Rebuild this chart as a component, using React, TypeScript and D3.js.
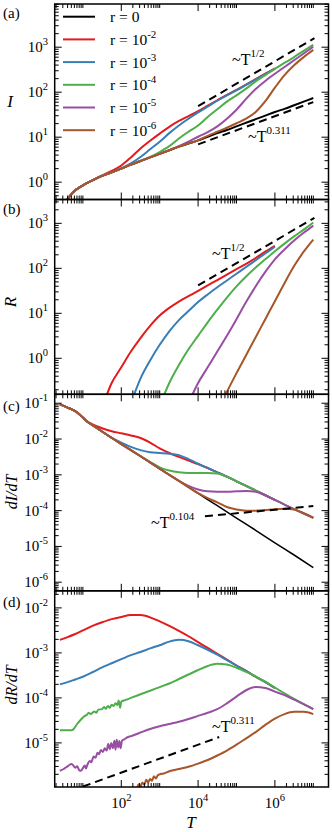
import React from 'react';
import * as d3 from 'd3';

type Pt = [number, number]; // [log10 T, log10 value]

// colours for r = 0, 1e-2 ... 1e-6
const COLORS = ['#000000', '#e41a1c', '#377eb8', '#4daf4a', '#984ea3', '#a65628'];
const LEGEND = ['0', '-2', '-3', '-4', '-5', '-6'];

// ---- panel (a): I(T) ----
const gridA = [0.5, 0.75, 1, 1.25, 1.5, 1.75, 2, 2.25, 2.5, 2.75, 3, 3.25, 3.5, 3.75, 4, 4.25, 4.5, 4.75, 5, 5.25, 5.5, 5.75, 6, 6.25, 6.5, 6.75, 7];
const I_r0 = [-0.5, -0.22, -0.07, 0.04, 0.14, 0.22, 0.30, 0.39, 0.47, 0.55, 0.63, 0.71, 0.79, 0.86, 0.93, 1.01, 1.09, 1.16, 1.24, 1.32, 1.40, 1.48, 1.56, 1.63, 1.71, 1.79, 1.87];
const I_r2 = [-0.5, -0.22, -0.07, 0.04, 0.15, 0.25, 0.37, 0.55, 0.75, 0.92, 1.08, 1.23, 1.36, 1.47, 1.58, 1.70, 1.82, 1.94, 2.05, 2.17, 2.29, 2.41, 2.53];
const I_r3 = [-0.5, -0.22, -0.07, 0.04, 0.14, 0.22, 0.31, 0.42, 0.56, 0.73, 0.90, 1.09, 1.26, 1.41, 1.55, 1.68, 1.81, 1.93, 2.04, 2.16, 2.28, 2.40, 2.52];
const I_r4 = [-0.5, -0.22, -0.07, 0.04, 0.14, 0.22, 0.30, 0.39, 0.47, 0.56, 0.67, 0.80, 0.97, 1.12, 1.26, 1.45, 1.62, 1.79, 1.93, 2.08, 2.24, 2.38, 2.52, 2.65, 2.78, 2.92, 3.05];
const I_r5 = [-0.5, -0.22, -0.07, 0.04, 0.14, 0.22, 0.30, 0.39, 0.47, 0.55, 0.63, 0.71, 0.80, 0.90, 1.01, 1.11, 1.24, 1.41, 1.61, 1.85, 2.07, 2.25, 2.41, 2.56, 2.71, 2.86, 3.01];
const I_r6 = [-0.5, -0.22, -0.07, 0.04, 0.14, 0.22, 0.30, 0.39, 0.47, 0.55, 0.63, 0.71, 0.79, 0.86, 0.93, 1.03, 1.12, 1.21, 1.31, 1.41, 1.56, 1.80, 2.10, 2.38, 2.60, 2.78, 2.94];
const guideA_half: Pt[] = [[4.0, 1.69], [7.03, 3.2]];
const guideA_311: Pt[] = [[4.0, 0.84], [7.0, 1.78]];

// ---- panel (b): R(T) ----
const R_r2: Pt[] = [[1.5, -1.1], [1.75, -0.55], [2, -0.2], [2.25, 0.15], [2.5, 0.45], [2.75, 0.72], [3, 0.95], [3.25, 1.12], [3.5, 1.26], [3.75, 1.38], [4, 1.5], [4.25, 1.62], [4.5, 1.74], [4.75, 1.86], [5, 1.98], [5.25, 2.1], [5.5, 2.23], [5.75, 2.37], [6, 2.5]];
const R_r3: Pt[] = [[2.25, -1.0], [2.5, -0.45], [2.75, -0.05], [3, 0.3], [3.25, 0.6], [3.5, 0.85], [3.75, 1.05], [4, 1.25], [4.25, 1.42], [4.5, 1.58], [4.75, 1.73], [5, 1.88], [5.25, 2.03], [5.5, 2.18], [5.75, 2.33], [6, 2.48]];
const R_r4: Pt[] = [[3, -1.05], [3.25, -0.55], [3.5, -0.15], [3.75, 0.2], [4, 0.5], [4.25, 0.8], [4.5, 1.08], [4.75, 1.35], [5, 1.6], [5.25, 1.82], [5.5, 2.02], [5.75, 2.2], [6, 2.38], [6.25, 2.55], [6.5, 2.71], [6.75, 2.86], [7, 3.02]];
const R_r5: Pt[] = [[3.75, -1.0], [4, -0.55], [4.25, -0.2], [4.5, 0.15], [4.75, 0.5], [5, 0.87], [5.25, 1.25], [5.5, 1.6], [5.75, 1.92], [6, 2.2], [6.25, 2.42], [6.5, 2.62], [6.75, 2.79], [7, 2.95]];
const R_r6: Pt[] = [[4.5, -1.2], [4.75, -0.75], [5, -0.33], [5.25, 0.07], [5.5, 0.47], [5.75, 0.87], [6, 1.27], [6.25, 1.67], [6.5, 2.05], [6.75, 2.37], [7, 2.64]];
const guideB_half: Pt[] = [[4.0, 1.62], [7.03, 3.12]];

// ---- panel (c): dI/dT ----
const dI_r0: Pt[] = [[0.4, -1.03], [0.6, -1.12], [0.8, -1.22], [0.9, -1.3], [1.0, -1.4], [1.1, -1.5], [1.25, -1.61], [1.5, -1.79], [2, -2.14], [2.5, -2.48], [3, -2.83], [3.5, -3.17], [4, -3.52], [4.5, -3.86], [5, -4.21], [5.5, -4.55], [6, -4.9], [6.5, -5.24], [7, -5.59]];
const dI_r2: Pt[] = [[0.4, -1.03], [0.6, -1.12], [0.8, -1.22], [0.9, -1.3], [1.0, -1.4], [1.1, -1.5], [1.25, -1.59], [1.5, -1.7], [1.75, -1.78], [2, -1.84], [2.25, -1.9], [2.5, -1.97], [2.75, -2.1], [3, -2.26], [3.25, -2.39], [3.5, -2.5], [3.75, -2.6], [4, -2.7], [4.25, -2.81], [4.5, -2.93], [4.75, -3.05], [5, -3.18], [5.25, -3.31], [5.5, -3.44], [5.75, -3.57], [6, -3.7]];
const dI_r3: Pt[] = [[0.4, -1.03], [0.6, -1.12], [0.8, -1.22], [0.9, -1.3], [1.0, -1.4], [1.1, -1.5], [1.25, -1.61], [1.5, -1.79], [1.75, -1.97], [2, -2.1], [2.25, -2.22], [2.5, -2.31], [2.75, -2.37], [3, -2.39], [3.25, -2.41], [3.5, -2.45], [3.75, -2.56], [4, -2.69], [4.25, -2.81], [4.5, -2.93], [4.75, -3.05], [5, -3.18], [5.25, -3.31], [5.5, -3.44], [5.75, -3.57], [6, -3.7]];
const dI_r4: Pt[] = [[0.4, -1.03], [0.6, -1.12], [0.8, -1.22], [0.9, -1.3], [1.0, -1.4], [1.1, -1.5], [1.25, -1.61], [1.5, -1.79], [2, -2.14], [2.5, -2.48], [2.75, -2.64], [3, -2.79], [3.25, -2.88], [3.5, -2.93], [3.75, -2.95], [4, -2.95], [4.25, -2.95], [4.5, -2.96], [4.75, -3.05], [5, -3.18], [5.25, -3.31], [5.5, -3.44], [5.75, -3.57], [6, -3.7], [6.25, -3.83], [6.5, -3.96], [6.75, -4.08], [7, -4.2]];
const dI_r5: Pt[] = [[0.4, -1.03], [0.6, -1.12], [0.8, -1.22], [0.9, -1.3], [1.0, -1.4], [1.1, -1.5], [1.25, -1.61], [1.5, -1.79], [2, -2.14], [2.5, -2.48], [3, -2.83], [3.25, -3.0], [3.5, -3.17], [3.75, -3.31], [4, -3.41], [4.25, -3.46], [4.5, -3.47], [4.75, -3.47], [5, -3.46], [5.25, -3.45], [5.5, -3.47], [5.75, -3.57], [6, -3.7], [6.25, -3.83], [6.5, -3.96], [6.75, -4.08], [7, -4.2]];
const dI_r6: Pt[] = [[0.4, -1.03], [0.6, -1.12], [0.8, -1.22], [0.9, -1.3], [1.0, -1.4], [1.1, -1.5], [1.25, -1.61], [1.5, -1.79], [2, -2.14], [2.5, -2.48], [3, -2.83], [3.5, -3.17], [4, -3.51], [4.25, -3.65], [4.5, -3.77], [4.75, -3.9], [5, -3.97], [5.25, -4.0], [5.5, -4.0], [5.75, -3.98], [6, -3.96], [6.25, -3.95], [6.5, -3.97], [6.75, -4.07], [7, -4.2]];
const guideC_104: Pt[] = [[4.18, -4.16], [7.0, -3.87]];

// ---- panel (d): dR/dT ----
const dR_r2: Pt[] = [[0.4, -2.71], [0.6, -2.65], [0.8, -2.58], [1.0, -2.5], [1.25, -2.4], [1.5, -2.32], [1.75, -2.25], [2, -2.2], [2.25, -2.16], [2.5, -2.16], [2.75, -2.21], [3, -2.3], [3.25, -2.4], [3.5, -2.51], [3.75, -2.63], [4, -2.76], [4.25, -2.89], [4.5, -3.02], [4.75, -3.15], [5, -3.28], [5.25, -3.4], [5.5, -3.53], [5.75, -3.65], [6, -3.78]];
const dR_r3: Pt[] = [[0.4, -3.7], [0.6, -3.65], [0.8, -3.59], [1.0, -3.53], [1.25, -3.43], [1.5, -3.32], [1.75, -3.23], [2, -3.14], [2.25, -3.05], [2.5, -2.98], [2.75, -2.9], [3, -2.83], [3.25, -2.75], [3.5, -2.71], [3.75, -2.74], [4, -2.83], [4.25, -2.93], [4.5, -3.04], [4.75, -3.16], [5, -3.28], [5.25, -3.4], [5.5, -3.53], [5.75, -3.65], [6, -3.78]];
const dR_r4: Pt[] = [[0.4, -4.72], [0.7, -4.72], [0.75, -4.7], [0.85, -4.58], [0.95, -4.48], [1.05, -4.4], [1.1, -4.38], [1.15, -4.33], [1.2, -4.36], [1.3, -4.3], [1.35, -4.33], [1.4, -4.26], [1.5, -4.25], [1.55, -4.2], [1.6, -4.24], [1.65, -4.18], [1.7, -4.22], [1.75, -4.15], [1.8, -4.18], [1.85, -4.12], [1.9, -4.16], [1.93, -4.06], [1.97, -4.22], [2.0, -4.08], [2.1, -4.05], [2.25, -4.0], [2.5, -3.92], [2.75, -3.84], [3, -3.76], [3.25, -3.68], [3.5, -3.58], [3.75, -3.48], [4, -3.38], [4.25, -3.29], [4.5, -3.24], [4.75, -3.26], [5, -3.33], [5.25, -3.42], [5.5, -3.52], [5.75, -3.64], [6, -3.77], [6.25, -3.9], [6.5, -4.02], [6.75, -4.14], [7, -4.25]];
const dR_r5: Pt[] = [[0.4, -5.62], [0.5, -5.58], [0.6, -5.52], [0.7, -5.47], [0.75, -5.5], [0.8, -5.55], [0.85, -5.52], [0.9, -5.6], [0.95, -5.62], [1.0, -5.56], [1.05, -5.5], [1.08, -5.57], [1.12, -5.48], [1.18, -5.4], [1.22, -5.43], [1.28, -5.3], [1.33, -5.33], [1.38, -5.22], [1.42, -5.25], [1.47, -5.16], [1.52, -5.2], [1.57, -5.12], [1.62, -5.17], [1.66, -5.02], [1.7, -5.14], [1.74, -5.0], [1.78, -5.12], [1.82, -4.95], [1.85, -5.15], [1.88, -4.93], [1.92, -5.1], [1.95, -4.96], [1.98, -5.12], [2.02, -4.95], [2.08, -4.92], [2.15, -4.88], [2.25, -4.85], [2.35, -4.82], [2.5, -4.77], [2.75, -4.69], [3, -4.63], [3.25, -4.58], [3.5, -4.53], [3.75, -4.47], [4, -4.4], [4.25, -4.33], [4.5, -4.25], [4.75, -4.12], [5, -3.97], [5.25, -3.83], [5.5, -3.76], [5.75, -3.78], [6, -3.86], [6.25, -3.94], [6.5, -4.04], [6.75, -4.14], [7, -4.25]];
const dR_r6: Pt[] = [[2.4, -6.05], [2.45, -5.92], [2.5, -5.97], [2.55, -5.88], [2.6, -5.93], [2.65, -5.82], [2.7, -5.88], [2.75, -5.8], [2.8, -5.84], [2.85, -5.74], [2.9, -5.79], [2.95, -5.72], [3.0, -5.7], [3.1, -5.68], [3.25, -5.63], [3.5, -5.58], [3.75, -5.53], [4, -5.46], [4.25, -5.38], [4.5, -5.28], [4.75, -5.17], [5, -5.04], [5.25, -4.9], [5.5, -4.76], [5.75, -4.6], [6, -4.46], [6.25, -4.36], [6.5, -4.31], [6.75, -4.31], [7, -4.36]];
const guideD_311: Pt[] = [[1.0, -5.97], [4.55, -4.87]];

const zipA = (vals: number[]): Pt[] => vals.map((v, i) => [gridA[i], v]);

const LEFT = 54.7;
const RIGHT = 328.5;
const FONT = '"Liberation Serif", "Times New Roman", serif';

const x = d3.scaleLog().domain([10 ** 0.266, 10 ** 7.396]).range([LEFT, RIGHT]);

const panels = [
  { id: 'a', top: 4, bottom: 199.5, lo: -0.385, hi: 3.96,
    series: [zipA(I_r0), zipA(I_r2), zipA(I_r3), zipA(I_r4), zipA(I_r5), zipA(I_r6)], colors: COLORS, widths: [2, 2, 2, 2, 2, 2],
    guides: [guideA_half, guideA_311] },
  { id: 'b', top: 199.5, bottom: 394.3, lo: -0.8, hi: 3.53,
    series: [R_r2, R_r3, R_r4, R_r5, R_r6], colors: COLORS.slice(1), widths: [2, 2, 2, 2, 2],
    guides: [guideB_half] },
  { id: 'c', top: 394.3, bottom: 590.8, lo: -6.24, hi: -0.75,
    series: [dI_r0, dI_r2, dI_r3, dI_r4, dI_r5, dI_r6], colors: COLORS, widths: [1.5, 2, 2, 2, 2, 2],
    guides: [guideC_104] },
  { id: 'd', top: 590.8, bottom: 787, lo: -5.98, hi: -1.62,
    series: [dR_r2, dR_r3, dR_r4, dR_r5, dR_r6], colors: COLORS.slice(1), widths: [2, 2, 2, 2, 2],
    guides: [guideD_311] },
];

const xMajor = [2, 4, 6];
const xMinor: number[] = [];
[0, 2, 4, 6].forEach(e => d3.range(2, 11).forEach(k => {
  const v = k * 10 ** e;
  if (v >= x.domain()[0] && v <= x.domain()[1]) xMinor.push(v);
}));

function Panel({ p }: { p: typeof panels[number] }) {
  const y = d3.scaleLog().domain([10 ** p.lo, 10 ** p.hi]).range([p.bottom, p.top]);
  const line = d3.line<Pt>().x(d => x(10 ** d[0])).y(d => y(10 ** d[1])).curve(d3.curveMonotoneX);
  const majors = d3.range(Math.ceil(p.lo), Math.floor(p.hi) + 1);
  const minors: number[] = [];
  d3.range(Math.floor(p.lo), Math.ceil(p.hi) + 1).forEach(e => d3.range(2, 10).forEach(k => {
    const l = e + Math.log10(k);
    if (l > p.lo && l < p.hi) minors.push(l);
  }));
  return (
    <g>
      <defs>
        <clipPath id={'clip-' + p.id}>
          <rect x={LEFT} y={p.top} width={RIGHT - LEFT} height={p.bottom - p.top} />
        </clipPath>
      </defs>
      <g clipPath={`url(#clip-${p.id})`} fill="none">
        {p.series.map((s, i) => (
          <path key={i} d={line(s) || ''} stroke={p.colors[i]} strokeWidth={p.widths[i]} />
        ))}
        {p.guides.map((g, i) => (
          <path key={'g' + i} d={d3.line<Pt>().x(d => x(10 ** d[0])).y(d => y(10 ** d[1]))(g) || ''}
            stroke="#000" strokeWidth={2} strokeDasharray="8,5" />
        ))}
      </g>
      {/* y ticks, both sides */}
      {majors.map(e => (
        <g key={'M' + e}>
          <line x1={LEFT} x2={LEFT + 7} y1={y(10 ** e)} y2={y(10 ** e)} stroke="#000" />
          <line x1={RIGHT} x2={RIGHT - 7} y1={y(10 ** e)} y2={y(10 ** e)} stroke="#000" />
          <text x={48} y={y(10 ** e) + 5} textAnchor="end" fontSize={15} fontFamily={FONT}>
            10<tspan dy={-7} fontSize={10.5}>{e < 0 ? '-' + Math.abs(e) : e}</tspan>
          </text>
        </g>
      ))}
      {minors.map(l => (
        <g key={'m' + l}>
          <line x1={LEFT} x2={LEFT + 4} y1={y(10 ** l)} y2={y(10 ** l)} stroke="#000" />
          <line x1={RIGHT} x2={RIGHT - 4} y1={y(10 ** l)} y2={y(10 ** l)} stroke="#000" />
        </g>
      ))}
      {/* x ticks top and bottom */}
      {xMajor.map(e => (
        <g key={'xM' + e}>
          <line x1={x(10 ** e)} x2={x(10 ** e)} y1={p.top} y2={p.top + 7} stroke="#000" />
          <line x1={x(10 ** e)} x2={x(10 ** e)} y1={p.bottom} y2={p.bottom - 7} stroke="#000" />
        </g>
      ))}
      {xMinor.map(v => (
        <g key={'xm' + v}>
          <line x1={x(v)} x2={x(v)} y1={p.top} y2={p.top + 4} stroke="#000" />
          <line x1={x(v)} x2={x(v)} y1={p.bottom} y2={p.bottom - 4} stroke="#000" />
        </g>
      ))}
      <rect x={LEFT} y={p.top} width={RIGHT - LEFT} height={p.bottom - p.top} fill="none" stroke="#000" strokeWidth={1.5} />
    </g>
  );
}

function Power({ x0, y0, exp }: { x0: number; y0: number; exp: string }) {
  return (
    <text x={x0} y={y0} fontSize={16} fontFamily={FONT}>
      ~T<tspan dy={-8} fontSize={11}>{exp}</tspan>
    </text>
  );
}

export default function App() {
  return (
    <svg width={332} height={832} style={{ position: 'absolute', left: 0, top: 0, background: '#fff' }}>
      {panels.map(p => <Panel key={p.id} p={p} />)}

      {/* legend */}
      {COLORS.map((c, i) => {
        const ly = 16.7 + i * 22.7;
        return (
          <g key={'lg' + i}>
            <line x1={63} x2={95} y1={ly} y2={ly} stroke={c} strokeWidth={2} />
            <text x={110} y={ly + 5.5} fontSize={15.5} fontFamily={FONT}>
              {i === 0 ? 'r = 0' : <>r = 10<tspan dy={-7} fontSize={11}>{LEGEND[i]}</tspan></>}
            </text>
          </g>
        );
      })}

      {/* power-law labels */}
      <Power x0={232} y0={65} exp="1/2" />
      <Power x0={248} y0={142} exp="0.311" />
      <Power x0={212} y0={259} exp="1/2" />
      <Power x0={151} y0={528} exp="0.104" />
      <Power x0={212} y0={732} exp="0.311" />

      {/* panel letters */}
      {[['(a)', 18], ['(b)', 214], ['(c)', 411], ['(d)', 607]].map(([t, yy]) => (
        <text key={t as string} x={3} y={yy as number} fontSize={15} fontFamily={FONT}>{t}</text>
      ))}

      {/* x tick labels */}
      {xMajor.map(e => (
        <text key={'xl' + e} x={x(10 ** e)} y={808} textAnchor="middle" fontSize={15} fontFamily={FONT}>
          10<tspan dy={-7} fontSize={10.5}>{e}</tspan>
        </text>
      ))}

      {/* axis titles */}
      <text x={10} y={107} textAnchor="middle" fontSize={17} fontStyle="italic" fontFamily={FONT}>I</text>
      <text transform="translate(16,302) rotate(-90)" textAnchor="middle" fontSize={17} fontStyle="italic" fontFamily={FONT}>R</text>
      <text transform="translate(17,492) rotate(-90)" textAnchor="middle" fontSize={16} fontStyle="italic" fontFamily={FONT}>dI/dT</text>
      <text transform="translate(17,685) rotate(-90)" textAnchor="middle" fontSize={16} fontStyle="italic" fontFamily={FONT}>dR/dT</text>
      <text x={191} y={828} textAnchor="middle" fontSize={17} fontStyle="italic" fontFamily={FONT}>T</text>
    </svg>
  );
}
